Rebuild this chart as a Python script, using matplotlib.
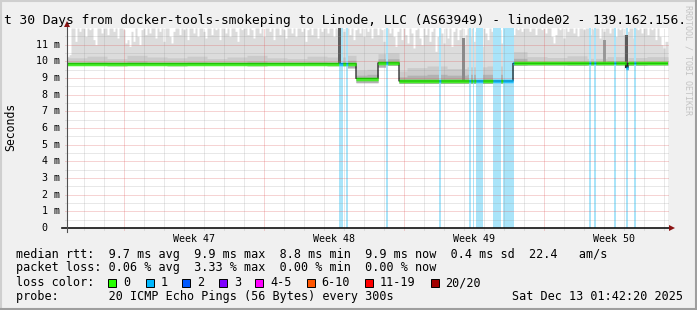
import numpy as np
import matplotlib
matplotlib.use("Agg")
import matplotlib.pyplot as plt
from matplotlib.patches import Rectangle
from matplotlib.collections import LineCollection

plt.rcParams['font.family'] = ['DejaVu Sans Mono']

W, H = 697, 310

# ---- data: x in days from the left edge of the 30 day window, y in ms ----
median_start = [0.0, 14.45, 15.55, 16.6, 22.3, 27.92, 28.02]
median_ms = [9.86, 8.97, 9.91, 8.82, 9.88, 9.62, 9.88]

# upper edge of the smoke, ten values per day
smoke_top = [
    10.3, 10.4, 12.0, 12.0, 11.2, 12.0, 11.8, 12.0, 12.0, 11.5,
    12.0, 11.9, 12.0, 11.3, 11.0, 12.0, 12.0, 11.7, 12.0, 12.0,
    11.6, 12.0, 12.0, 11.8, 12.0, 11.4, 12.0, 12.0, 11.9, 11.1,
    11.3, 10.9, 11.8, 11.2, 12.0, 11.5, 11.0, 11.9, 12.0, 11.6,
    12.0, 11.7, 12.0, 12.0, 11.4, 12.0, 11.8, 12.0, 11.2, 12.0,
    12.0, 11.5, 11.1, 11.8, 12.0, 12.0, 11.6, 12.0, 11.9, 12.0,
    11.3, 12.0, 12.0, 11.7, 12.0, 11.5, 12.0, 12.0, 11.8, 11.4,
    12.0, 12.0, 11.6, 12.0, 11.9, 12.0, 11.3, 12.0, 12.0, 11.7,
    12.0, 11.5, 12.0, 12.0, 11.8, 11.2, 12.0, 11.9, 12.0, 12.0,
    11.6, 12.0, 11.9, 11.4, 12.0, 12.0, 11.7, 12.0, 11.5, 12.0,
    12.0, 11.8, 12.0, 11.3, 12.0, 12.0, 11.6, 12.0, 11.9, 11.4,
    12.0, 12.0, 11.7, 12.0, 11.5, 12.0, 12.0, 11.8, 12.0, 11.2,
    11.9, 12.0, 11.6, 12.0, 12.0, 11.4, 12.0, 11.8, 12.0, 12.0,
    11.7, 12.0, 12.0, 11.5, 12.0, 11.9, 12.0, 12.0, 11.8, 12.0,
    12.0, 11.6, 12.0, 11.3, 11.9, 12.0, 11.7, 12.0, 11.5, 12.0,
    11.8, 12.0, 11.4, 12.0, 12.0, 11.6, 12.0, 11.9, 11.2, 12.0,
    12.0, 11.7, 12.0, 11.5, 10.9, 11.8, 12.0, 11.3, 12.0, 11.6,
    11.1, 12.0, 11.7, 10.8, 11.9, 12.0, 11.4, 11.0, 12.0, 11.6,
    12.0, 11.2, 11.8, 12.0, 10.6, 11.5, 12.0, 11.7, 11.1, 12.0,
    11.4, 12.0, 10.9, 11.8, 12.0, 11.3, 11.9, 12.0, 11.0, 11.6,
    12.0, 11.5, 12.0, 11.2, 11.8, 12.0, 11.6, 10.9, 12.0, 11.7,
    11.3, 12.0, 11.8, 12.0, 11.5, 12.0, 11.9, 11.1, 12.0, 12.0,
    11.7, 12.0, 12.0, 11.6, 12.0, 11.9, 12.0, 11.8, 12.0, 12.0,
    12.0, 11.8, 12.0, 12.0, 11.6, 12.0, 12.0, 11.9, 12.0, 11.7,
    12.0, 12.0, 11.5, 11.1, 11.6, 12.0, 11.9, 12.0, 11.4, 12.0,
    11.8, 12.0, 12.0, 11.7, 12.0, 11.5, 12.0, 12.0, 11.9, 12.0,
    12.0, 11.6, 12.0, 11.9, 12.0, 12.0, 11.4, 12.0, 11.8, 12.0,
    12.0, 11.7, 12.0, 12.0, 11.5, 12.0, 11.9, 12.0, 11.6, 12.0,
    11.8, 12.0, 12.0, 11.4, 12.0, 11.9, 12.0, 11.7, 12.0, 12.0,
    11.6, 12.0, 11.9, 12.0, 11.3, 12.0, 11.5, 11.0, 10.8, 11.2,
]
# denser smoke above the median (ms above median), one value per day
smoke_dense = [0.35, 0.45, 0.3, 0.5, 0.4, 0.35, 0.45, 0.3, 0.4, 0.5, 0.35, 0.3, 0.45, 0.4, 0.5,
               0.55, 0.6, 0.8, 0.9, 0.75, 0.85, 0.9, 0.7, 0.4, 0.35, 0.45, 0.3, 0.4, 0.35, 0.4]
# core of the smoke right above the median (ms above median), one value per day
smoke_core = [0.1, 0.12, 0.1, 0.15, 0.1, 0.1, 0.12, 0.1, 0.1, 0.15, 0.1, 0.1, 0.12, 0.1, 0.2,
              0.25, 0.25, 0.35, 0.4, 0.35, 0.4, 0.4, 0.3, 0.12, 0.1, 0.12, 0.1, 0.15, 0.1, 0.12]
# smoke below the median (ms below median), one value per day
smoke_floor = [0.1, 0.1, 0.12, 0.1, 0.1, 0.12, 0.1, 0.1, 0.1, 0.12, 0.1, 0.1, 0.1, 0.12, 0.25,
               0.25, 0.15, 0.15, 0.15, 0.15, 0.15, 0.15, 0.12, 0.1, 0.1, 0.12, 0.1, 0.1, 0.12, 0.1]

# columns with widely spread pings
dark_day = [13.62, 19.8, 26.85, 27.95]
dark_top = [12.0, 11.4, 11.3, 11.6]
dark_shade = ['#5e5e5e', '#8a8a8a', '#9a9a9a', '#5a5a5a']

# periods with packet loss (loss colour 1)
loss_start = [13.6, 13.93, 15.93, 18.6, 20.1, 20.28, 20.45, 21.3, 21.8, 26.1, 26.35, 27.35, 27.93, 28.33]
loss_end = [13.8, 14.05, 16.03, 18.69, 20.2, 20.35, 20.8, 21.7, 22.33, 26.19, 26.45, 27.45, 28.03, 28.43]

week_labels = ['Week 47', 'Week 48', 'Week 49', 'Week 50']
week_first_monday = 2.85

loss_names = ['0', '1', '2', '3', '4-5', '6-10', '11-19', '20/20']
loss_colors = ['#26ff00', '#00b8ff', '#0059ff', '#7e00ff', '#ff00ff', '#ff5500', '#ff0000', '#a10000']

stats_rtt = "median rtt:  9.7 ms avg  9.9 ms max  8.8 ms min  9.9 ms now  0.4 ms sd  22.4   am/s"
stats_loss = "packet loss: 0.06 % avg  3.33 % max  0.00 % min  0.00 % now"
probe_text = "probe:       20 ICMP Echo Pings (56 Bytes) every 300s"
stamp_text = "Sat Dec 13 01:42:20 2025"
title_text = "t 30 Days from docker-tools-smokeping to Linode, LLC (AS63949) - linode02 - 139.162.156."

# ---- figure ----
fig = plt.figure(figsize=(W / 100, H / 100), dpi=100, facecolor='#f0f0f0')
ax = fig.add_axes([67 / W, 82 / H, 601 / W, 200 / H])
ax.set_facecolor('white')
days = 601 / 20
ax.set_xlim(0, days)
ax.set_ylim(0, 12)
for s in ax.spines.values():
    s.set_visible(False)
ax.set_xticks([])
ax.set_yticks([])

# per pixel sampling (1 px = 0.05 day)
t = np.arange(0, days + 0.05, 0.05)
idx = np.searchsorted(median_start, t, side='right') - 1
med = np.array(median_ms)[idx]
day_i = np.clip(t.astype(int), 0, 29)
top = np.array(smoke_top)[np.clip((t * 10).astype(int), 0, len(smoke_top) - 1)]
dense = med + np.array(smoke_dense)[day_i]
core = med + np.array(smoke_core)[day_i]
floor = med - np.array(smoke_floor)[day_i]

ax.fill_between(t, floor, top, step='post', color='#dcdcdc', lw=0, zorder=1)
ax.fill_between(t, floor, dense, step='post', color='#cbcbcb', lw=0, zorder=1.1)
ax.fill_between(t, floor, core, step='post', color='#b2b2b2', lw=0, zorder=1.2)

for s, e in zip(loss_start, loss_end):
    ax.axvspan(s, e, color='#a9e4f9', lw=0, zorder=1.5)

for d, tp, c in zip(dark_day, dark_top, dark_shade):
    m = median_ms[np.searchsorted(median_start, d, side='right') - 1]
    ax.bar(d, tp - m, bottom=m, width=0.15, color=c, lw=0, zorder=1.7)

# dotted grid on top of the smoke
dots = dict(lw=0.72, ls=(0, (1, 1)), clip_on=False)
for y in np.arange(0.5, 12, 1.0):
    ax.plot([-0.1, days], [y, y], color='#8f8f8f', alpha=0.4, zorder=2.5, **dots)
for y in np.arange(1, 12, 1.0):
    ax.plot([-0.1, days], [y, y], color='#de5050', alpha=0.5, zorder=2.6, **dots)
for x in np.arange(week_first_monday - 2, days, 1.0):
    weekline = abs(((x - week_first_monday) / 7) - round((x - week_first_monday) / 7)) < 1e-6
    ax.plot([x, x], [-0.12, 12], color='#de5050' if weekline else '#8f8f8f',
            alpha=0.5 if weekline else 0.4, zorder=2.6 if weekline else 2.5, **dots)

# median line: black step plus loss coloured band
ax.step(t, med, where='post', color='black', lw=0.8, zorder=3)
lossy = np.zeros(len(t), dtype=bool)
for s, e in zip(loss_start, loss_end):
    lossy |= (t >= s) & (t < e)
segs = [[(t[i], med[i]), (t[i] + 0.05, med[i])] for i in range(len(t) - 1)]
cols = [loss_colors[1] if lossy[i] else loss_colors[0] for i in range(len(t) - 1)]
ax.add_collection(LineCollection(segs, colors=cols, linewidths=2.5, capstyle='butt', zorder=4))

# axes with arrows
ax.plot([-0.25, 30.2], [0, 0], color='#101010', lw=1.2, zorder=5, clip_on=False)
ax.plot([0, 0], [-0.25, 12.15], color='#505050', lw=0.8, zorder=5, clip_on=False)
ax.plot([30.25], [0], marker='>', ms=4.5, color='#8b1414', mew=0, zorder=6, clip_on=False)
ax.plot([0], [12.25], marker='^', ms=4.5, color='#8b1414', mew=0, zorder=6, clip_on=False)

# y tick labels
for v in range(0, 12):
    lab = f"{v} m" if v else "0"
    xr = -0.0117 if v else -0.0333
    ax.text(xr, v, lab, transform=ax.get_yaxis_transform(), ha='right', va='center',
            fontsize=7.2, color='black')

# x labels
for k, lab in enumerate(week_labels):
    ax.text(week_first_monday + 3.5 + 7 * k, -0.0675, lab, transform=ax.get_xaxis_transform(),
            ha='center', va='baseline', fontsize=7.2)

fig.text(4 / W, 1 - 24 / H, title_text, ha='left', va='baseline', fontsize=9.3)
fig.text(11 / W, 1 - 127 / H, 'Seconds', rotation=90, ha='center', va='center', fontsize=8.3)
fig.text(688 / W, 1 - 60 / H, 'RRDTOOL / TOBI OETIKER', rotation=270, ha='center', va='center',
         fontsize=6, color='#c4c4c4')

# legend rows
fig.text(16 / W, 1 - 258 / H, stats_rtt, ha='left', va='baseline', fontsize=8.5)
fig.text(16 / W, 1 - 271.5 / H, stats_loss, ha='left', va='baseline', fontsize=8.5)
fig.text(16 / W, 1 - 286 / H, 'loss color:', ha='left', va='baseline', fontsize=8.5)
fig.text(16 / W, 1 - 300 / H, probe_text, ha='left', va='baseline', fontsize=8.5)
fig.text(512 / W, 1 - 300 / H, stamp_text, ha='left', va='baseline', fontsize=8.5)

box_x = [108, 145.5, 182, 219, 255, 306.5, 365, 430.5]
for bx, name, c in zip(box_x, loss_names, loss_colors):
    fig.patches.append(Rectangle((bx / W, 1 - 286.5 / H), 8 / W, 8 / H, transform=fig.transFigure,
                                 facecolor=c, edgecolor='black', lw=0.7))
    fig.text((bx + 15) / W, 1 - 286 / H, name, ha='left', va='baseline', fontsize=8.5)

# 3d frame
fig.add_artist(plt.Line2D([0, 1], [1 - 0.5 / H, 1 - 0.5 / H], transform=fig.transFigure, color='#cfcfcf', lw=1.5))
fig.add_artist(plt.Line2D([0.5 / W, 0.5 / W], [0, 1], transform=fig.transFigure, color='#cfcfcf', lw=1.5))
fig.add_artist(plt.Line2D([0, 1], [1 / H, 1 / H], transform=fig.transFigure, color='#9e9e9e', lw=1.5))
fig.add_artist(plt.Line2D([1 - 1 / W, 1 - 1 / W], [0, 1], transform=fig.transFigure, color='#9e9e9e', lw=1.5))

fig.savefig('out.png', dpi=100, facecolor=fig.get_facecolor())
